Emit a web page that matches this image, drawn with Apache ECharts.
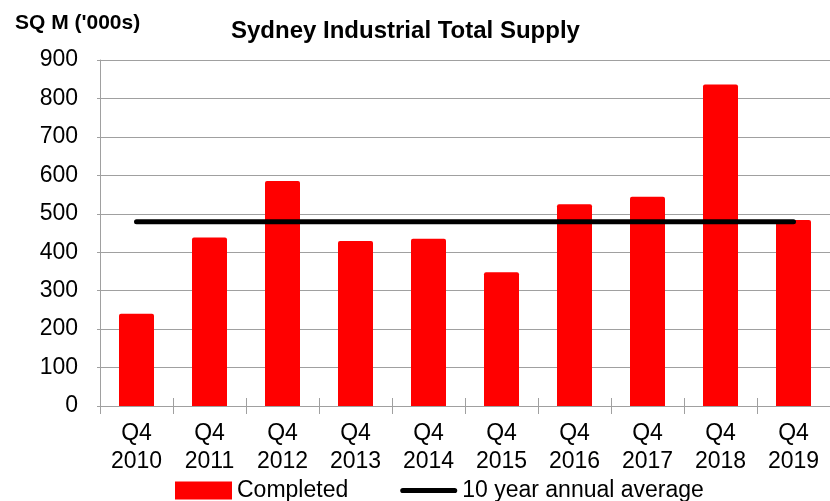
<!DOCTYPE html>
<html>
<head>
<meta charset="utf-8">
<title>Sydney Industrial Total Supply</title>
<script src="https://cdn.jsdelivr.net/npm/echarts@6/dist/echarts.min.js"></script>
<style>
  html, body { margin: 0; padding: 0; background: #fff; }
  #chart { width: 830px; height: 501px; }
</style>
</head>
<body>
<div id="chart"></div>
<script>
// categories along the x axis
var quarters = ["Q4\n2010", "Q4\n2011", "Q4\n2012", "Q4\n2013", "Q4\n2014",
                "Q4\n2015", "Q4\n2016", "Q4\n2017", "Q4\n2018", "Q4\n2019"];
// completed supply, sq m ('000s)
var completed = [240, 438, 585, 429, 435, 348, 525, 544, 836, 484];
// 10 year annual average (flat line)
var tenYearAvg = [479, 479, 479, 479, 479, 479, 479, 479, 479, 479];
var yTicks = { min: 0, max: 900, step: 100 };

var font = "Liberation Sans, Arial, sans-serif";
var gridGrey = "#a0a0a0";
// thick black line with round ends for the legend entry of the average
var avgIcon = "path://M2.5,0 L52.5,0 A2.5,2.5 0 0 1 52.5,5 L2.5,5 A2.5,2.5 0 0 1 2.5,0 Z";

var myChart = echarts.init(document.getElementById("chart"));

var option = {
  backgroundColor: "#fff",
  animation: false,
  title: [
    {
      text: "Sydney Industrial Total Supply",
      left: 226,
      top: 14,
      textStyle: { fontFamily: font, fontSize: 24, fontWeight: "bold", color: "#000" }
    },
    {
      text: "SQ M ('000s)",
      left: 10,
      top: 8,
      textStyle: { fontFamily: font, fontSize: 21, fontWeight: "bold", color: "#000" }
    }
  ],
  legend: {
    left: 170,
    top: 474,
    itemWidth: 57,
    itemHeight: 18,
    itemGap: 52,
    textStyle: { fontFamily: font, fontSize: 23, color: "#000" },
    data: [
      { name: "Completed", icon: "rect" },
      { name: "10 year annual average", icon: avgIcon }
    ]
  },
  grid: {
    left: 100,
    right: -3,
    top: 60,
    bottom: 95,
    containLabel: false
  },
  xAxis: [
    {
      type: "category",
      data: quarters,
      boundaryGap: true,
      axisLine: { show: true, lineStyle: { color: gridGrey, width: 1 } },
      axisTick: { show: true, alignWithLabel: false, length: 8, lineStyle: { color: gridGrey } },
      axisLabel: {
        fontFamily: font,
        fontSize: 23,
        color: "#000",
        lineHeight: 28,
        margin: 14,
        interval: 0
      },
      splitLine: { show: false }
    },
    {
      // second copy only to draw the inner half of the crossing tick marks
      type: "category",
      data: quarters,
      position: "bottom",
      boundaryGap: true,
      axisLine: { show: false },
      axisTick: { show: true, inside: true, length: 8, lineStyle: { color: gridGrey } },
      axisLabel: { show: false },
      splitLine: { show: false }
    }
  ],
  yAxis: {
    type: "value",
    min: yTicks.min,
    max: yTicks.max,
    interval: yTicks.step,
    axisLine: { show: true, lineStyle: { color: gridGrey, width: 1 } },
    axisTick: { show: true, length: 3, lineStyle: { color: gridGrey } },
    axisLabel: {
      fontFamily: font,
      fontSize: 23,
      color: "#000",
      margin: 22
    },
    splitLine: { show: true, lineStyle: { color: gridGrey, width: 1 } }
  },
  series: [
    {
      name: "Completed",
      type: "bar",
      data: completed,
      barWidth: 35,
      itemStyle: { color: "#ff0000", borderRadius: [2, 2, 0, 0] },
      z: 2
    },
    {
      name: "10 year annual average",
      type: "line",
      data: tenYearAvg,
      symbol: "none",
      itemStyle: { color: "#000" },
      lineStyle: { color: "#000", width: 5, cap: "round" },
      z: 3
    }
  ]
};

myChart.setOption(option);
</script>
</body>
</html>
